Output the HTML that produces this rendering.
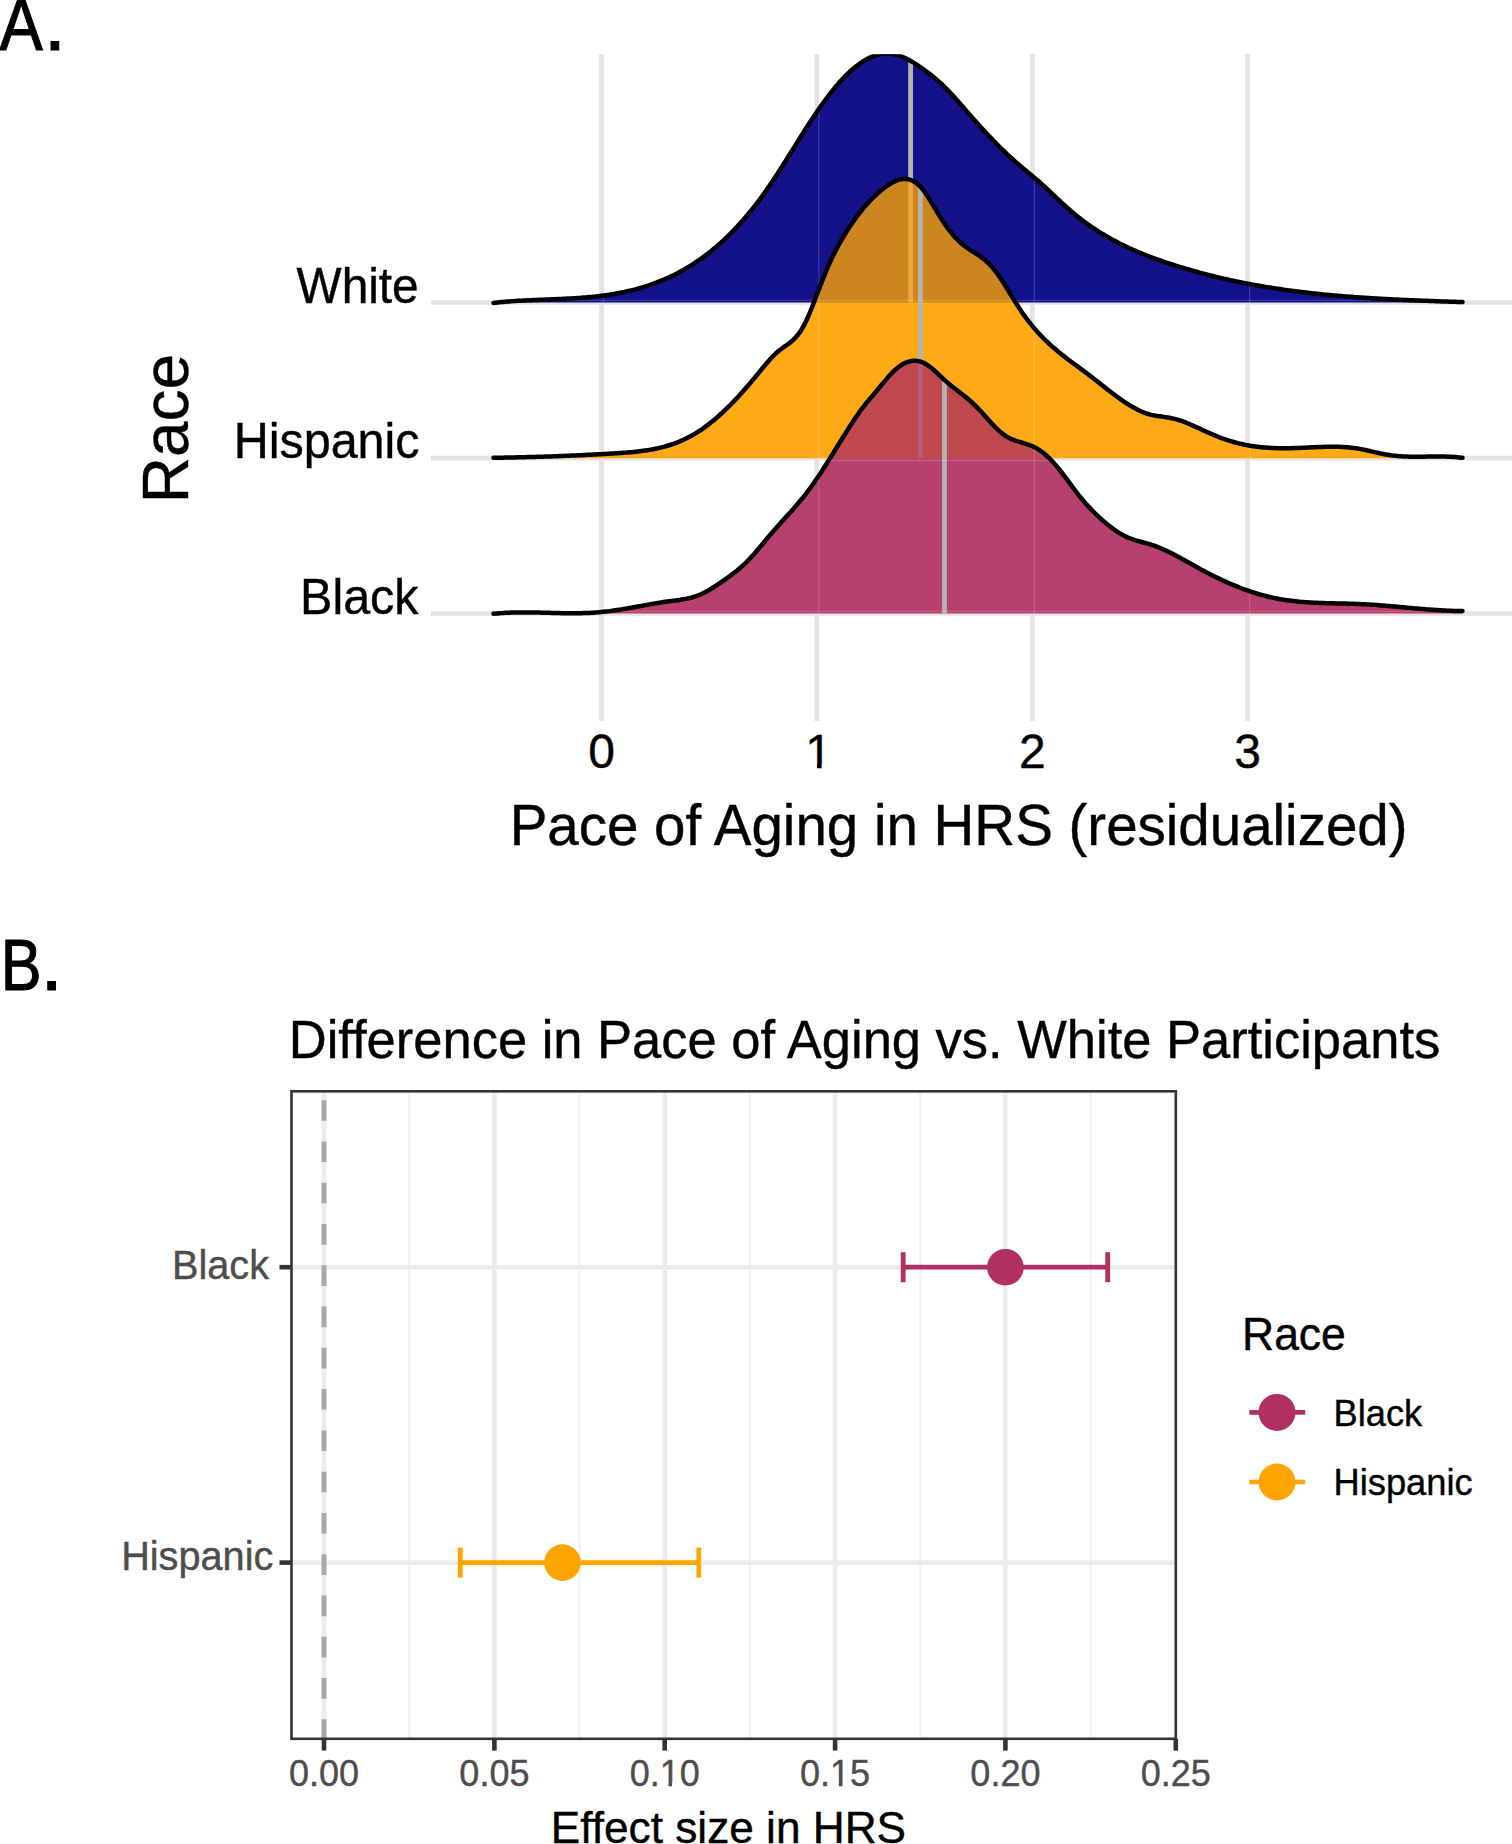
<!DOCTYPE html>
<html><head><meta charset="utf-8"><style>
html,body{margin:0;padding:0;background:#fff;}
body{width:1512px;height:1844px;overflow:hidden;}
svg{display:block;}
text{font-family:"Liberation Sans",Arial,Helvetica,sans-serif;stroke:#000;stroke-width:0.4px;}
.g text{stroke:#4d4d4d;}
</style></head><body>
<svg width="1512" height="1844" viewBox="0 0 1512 1844">
<defs>
<path id="wf" d="M493.5,302.94L495.5,302.71L497.5,302.50L499.5,302.29L501.5,302.10L503.5,301.92L505.5,301.74L507.5,301.58L509.5,301.42L511.5,301.27L513.5,301.13L515.5,301.00L517.5,300.87L519.5,300.75L521.5,300.64L523.5,300.53L525.5,300.43L527.5,300.33L529.5,300.23L531.5,300.14L533.5,300.05L535.5,299.97L537.5,299.88L539.5,299.80L541.5,299.72L543.5,299.64L545.5,299.56L547.5,299.48L549.5,299.40L551.5,299.32L553.5,299.24L555.5,299.16L557.5,299.07L559.5,298.99L561.5,298.90L563.5,298.80L565.5,298.70L567.5,298.60L569.5,298.49L571.5,298.38L573.5,298.26L575.5,298.14L577.5,298.01L579.5,297.87L581.5,297.72L583.5,297.57L585.5,297.41L587.5,297.24L589.5,297.06L591.5,296.87L593.5,296.67L595.5,296.45L597.5,296.23L599.5,296.00L601.5,295.75L603.5,295.50L605.5,295.22L607.5,294.94L609.5,294.64L611.5,294.33L613.5,294.00L615.5,293.66L617.5,293.30L619.5,292.93L621.5,292.54L623.5,292.13L625.5,291.71L627.5,291.27L629.5,290.81L631.5,290.33L633.5,289.83L635.5,289.31L637.5,288.78L639.5,288.22L641.5,287.64L643.5,287.04L645.5,286.42L647.5,285.77L649.5,285.11L651.5,284.42L653.5,283.70L655.5,282.97L657.5,282.20L659.5,281.42L661.5,280.60L663.5,279.77L665.5,278.90L667.5,278.01L669.5,277.09L671.5,276.15L673.5,275.17L675.5,274.17L677.5,273.14L679.5,272.08L681.5,270.99L683.5,269.87L685.5,268.72L687.5,267.53L689.5,266.32L691.5,265.07L693.5,263.79L695.5,262.48L697.5,261.13L699.5,259.75L701.5,258.33L703.5,256.88L705.5,255.39L707.5,253.87L709.5,252.31L711.5,250.71L713.5,249.08L715.5,247.40L717.5,245.69L719.5,243.93L721.5,242.14L723.5,240.31L725.5,238.43L727.5,236.52L729.5,234.56L731.5,232.56L733.5,230.51L735.5,228.42L737.5,226.29L739.5,224.11L741.5,221.89L743.5,219.62L745.5,217.31L747.5,214.95L749.5,212.54L751.5,210.09L753.5,207.58L755.5,205.03L757.5,202.43L759.5,199.78L761.5,197.07L763.5,194.32L765.5,191.52L767.5,188.66L769.5,185.75L771.5,182.80L773.5,179.80L775.5,176.76L777.5,173.69L779.5,170.59L781.5,167.46L783.5,164.30L785.5,161.13L787.5,157.94L789.5,154.74L791.5,151.53L793.5,148.32L795.5,145.11L797.5,141.90L799.5,138.70L801.5,135.52L803.5,132.35L805.5,129.20L807.5,126.07L809.5,122.98L811.5,119.92L813.5,116.89L815.5,113.90L817.5,110.96L819.5,108.07L821.5,105.22L823.5,102.44L825.5,99.71L827.5,97.03L829.5,94.42L831.5,91.87L833.5,89.39L835.5,86.97L837.5,84.61L839.5,82.33L841.5,80.12L843.5,77.98L845.5,75.92L847.5,73.94L849.5,72.03L851.5,70.21L853.5,68.47L855.5,66.81L857.5,65.24L859.5,63.76L861.5,62.38L863.5,61.08L865.5,59.88L867.5,58.77L869.5,57.77L871.5,56.86L873.5,56.05L875.5,55.35L877.5,54.76L879.5,54.27L881.5,53.90L883.5,53.63L885.5,53.48L887.5,53.45L889.5,53.53L891.5,53.73L893.5,54.05L895.5,54.49L897.5,55.04L899.5,55.70L901.5,56.45L903.5,57.29L905.5,58.22L907.5,59.22L909.5,60.30L911.5,61.44L913.5,62.64L915.5,63.89L917.5,65.18L919.5,66.52L921.5,67.89L923.5,69.29L925.5,70.74L927.5,72.23L929.5,73.76L931.5,75.34L933.5,76.96L935.5,78.64L937.5,80.37L939.5,82.15L941.5,83.99L943.5,85.90L945.5,87.86L947.5,89.88L949.5,91.97L951.5,94.10L953.5,96.28L955.5,98.49L957.5,100.73L959.5,103.00L961.5,105.29L963.5,107.59L965.5,109.90L967.5,112.20L969.5,114.50L971.5,116.78L973.5,119.05L975.5,121.30L977.5,123.53L979.5,125.75L981.5,127.95L983.5,130.12L985.5,132.28L987.5,134.42L989.5,136.54L991.5,138.63L993.5,140.70L995.5,142.75L997.5,144.77L999.5,146.77L1001.5,148.75L1003.5,150.70L1005.5,152.62L1007.5,154.52L1009.5,156.38L1011.5,158.22L1013.5,160.03L1015.5,161.81L1017.5,163.56L1019.5,165.28L1021.5,166.97L1023.5,168.65L1025.5,170.31L1027.5,171.96L1029.5,173.62L1031.5,175.27L1033.5,176.94L1035.5,178.62L1037.5,180.33L1039.5,182.06L1041.5,183.83L1043.5,185.63L1045.5,187.47L1047.5,189.34L1049.5,191.22L1051.5,193.12L1053.5,195.03L1055.5,196.94L1057.5,198.84L1059.5,200.73L1061.5,202.61L1063.5,204.46L1065.5,206.27L1067.5,208.05L1069.5,209.80L1071.5,211.51L1073.5,213.18L1075.5,214.82L1077.5,216.43L1079.5,218.01L1081.5,219.55L1083.5,221.06L1085.5,222.53L1087.5,223.98L1089.5,225.40L1091.5,226.78L1093.5,228.14L1095.5,229.47L1097.5,230.77L1099.5,232.04L1101.5,233.29L1103.5,234.51L1105.5,235.70L1107.5,236.87L1109.5,238.02L1111.5,239.14L1113.5,240.23L1115.5,241.30L1117.5,242.36L1119.5,243.38L1121.5,244.39L1123.5,245.38L1125.5,246.34L1127.5,247.29L1129.5,248.22L1131.5,249.13L1133.5,250.02L1135.5,250.89L1137.5,251.74L1139.5,252.58L1141.5,253.41L1143.5,254.22L1145.5,255.01L1147.5,255.79L1149.5,256.56L1151.5,257.31L1153.5,258.05L1155.5,258.78L1157.5,259.50L1159.5,260.21L1161.5,260.91L1163.5,261.59L1165.5,262.27L1167.5,262.94L1169.5,263.60L1171.5,264.26L1173.5,264.90L1175.5,265.54L1177.5,266.17L1179.5,266.79L1181.5,267.40L1183.5,268.01L1185.5,268.61L1187.5,269.20L1189.5,269.78L1191.5,270.36L1193.5,270.93L1195.5,271.49L1197.5,272.04L1199.5,272.59L1201.5,273.12L1203.5,273.66L1205.5,274.18L1207.5,274.70L1209.5,275.21L1211.5,275.71L1213.5,276.21L1215.5,276.70L1217.5,277.18L1219.5,277.65L1221.5,278.12L1223.5,278.58L1225.5,279.04L1227.5,279.49L1229.5,279.93L1231.5,280.37L1233.5,280.80L1235.5,281.22L1237.5,281.64L1239.5,282.05L1241.5,282.45L1243.5,282.85L1245.5,283.24L1247.5,283.63L1249.5,284.01L1251.5,284.38L1253.5,284.75L1255.5,285.12L1257.5,285.47L1259.5,285.82L1261.5,286.17L1263.5,286.51L1265.5,286.85L1267.5,287.18L1269.5,287.50L1271.5,287.82L1273.5,288.13L1275.5,288.44L1277.5,288.74L1279.5,289.04L1281.5,289.33L1283.5,289.62L1285.5,289.91L1287.5,290.18L1289.5,290.46L1291.5,290.73L1293.5,290.99L1295.5,291.25L1297.5,291.50L1299.5,291.75L1301.5,292.00L1303.5,292.24L1305.5,292.48L1307.5,292.71L1309.5,292.94L1311.5,293.16L1313.5,293.38L1315.5,293.60L1317.5,293.81L1319.5,294.02L1321.5,294.22L1323.5,294.42L1325.5,294.62L1327.5,294.81L1329.5,295.00L1331.5,295.18L1333.5,295.37L1335.5,295.54L1337.5,295.72L1339.5,295.89L1341.5,296.06L1343.5,296.22L1345.5,296.38L1347.5,296.54L1349.5,296.69L1351.5,296.85L1353.5,297.00L1355.5,297.14L1357.5,297.28L1359.5,297.42L1361.5,297.56L1363.5,297.69L1365.5,297.83L1367.5,297.96L1369.5,298.08L1371.5,298.21L1373.5,298.33L1375.5,298.45L1377.5,298.56L1379.5,298.68L1381.5,298.79L1383.5,298.90L1385.5,299.01L1387.5,299.11L1389.5,299.22L1391.5,299.32L1393.5,299.42L1395.5,299.52L1397.5,299.61L1399.5,299.71L1401.5,299.80L1403.5,299.89L1405.5,299.98L1407.5,300.07L1409.5,300.15L1411.5,300.24L1413.5,300.32L1415.5,300.40L1417.5,300.49L1419.5,300.57L1421.5,300.64L1423.5,300.72L1425.5,300.80L1427.5,300.87L1429.5,300.95L1431.5,301.02L1433.5,301.10L1435.5,301.17L1437.5,301.24L1439.5,301.31L1441.5,301.38L1443.5,301.45L1445.5,301.52L1447.5,301.59L1449.5,301.66L1451.5,301.73L1453.5,301.80L1455.5,301.87L1457.5,301.93L1459.5,302.00L1461.5,302.07L1462.5,302.10L1462.5,302.5L493.5,302.5Z"/>
<path id="hf" d="M493.5,457.78L495.5,457.76L497.5,457.73L499.5,457.70L501.5,457.67L503.5,457.63L505.5,457.60L507.5,457.56L509.5,457.52L511.5,457.48L513.5,457.44L515.5,457.40L517.5,457.36L519.5,457.31L521.5,457.27L523.5,457.22L525.5,457.17L527.5,457.12L529.5,457.06L531.5,457.01L533.5,456.95L535.5,456.90L537.5,456.84L539.5,456.78L541.5,456.71L543.5,456.65L545.5,456.59L547.5,456.52L549.5,456.45L551.5,456.38L553.5,456.31L555.5,456.24L557.5,456.16L559.5,456.09L561.5,456.01L563.5,455.93L565.5,455.85L567.5,455.77L569.5,455.69L571.5,455.60L573.5,455.52L575.5,455.43L577.5,455.34L579.5,455.25L581.5,455.16L583.5,455.06L585.5,454.97L587.5,454.87L589.5,454.77L591.5,454.67L593.5,454.57L595.5,454.46L597.5,454.36L599.5,454.25L601.5,454.14L603.5,454.03L605.5,453.91L607.5,453.80L609.5,453.68L611.5,453.56L613.5,453.43L615.5,453.31L617.5,453.18L619.5,453.05L621.5,452.91L623.5,452.77L625.5,452.63L627.5,452.47L629.5,452.31L631.5,452.14L633.5,451.95L635.5,451.75L637.5,451.54L639.5,451.32L641.5,451.07L643.5,450.81L645.5,450.53L647.5,450.22L649.5,449.90L651.5,449.55L653.5,449.18L655.5,448.78L657.5,448.36L659.5,447.90L661.5,447.42L663.5,446.90L665.5,446.36L667.5,445.78L669.5,445.16L671.5,444.51L673.5,443.82L675.5,443.09L677.5,442.32L679.5,441.51L681.5,440.66L683.5,439.76L685.5,438.82L687.5,437.83L689.5,436.80L691.5,435.71L693.5,434.58L695.5,433.39L697.5,432.15L699.5,430.85L701.5,429.51L703.5,428.11L705.5,426.67L707.5,425.17L709.5,423.63L711.5,422.04L713.5,420.40L715.5,418.72L717.5,416.99L719.5,415.22L721.5,413.40L723.5,411.55L725.5,409.65L727.5,407.71L729.5,405.73L731.5,403.71L733.5,401.66L735.5,399.56L737.5,397.43L739.5,395.27L741.5,393.07L743.5,390.83L745.5,388.56L747.5,386.26L749.5,383.93L751.5,381.57L753.5,379.18L755.5,376.76L757.5,374.31L759.5,371.86L761.5,369.41L763.5,366.99L765.5,364.60L767.5,362.26L769.5,360.00L771.5,357.81L773.5,355.74L775.5,353.77L777.5,351.94L779.5,350.26L781.5,348.72L783.5,347.28L785.5,345.88L787.5,344.46L789.5,342.97L791.5,341.37L793.5,339.59L795.5,337.58L797.5,335.30L799.5,332.67L801.5,329.67L803.5,326.21L805.5,322.31L807.5,318.02L809.5,313.40L811.5,308.52L813.5,303.46L815.5,298.27L817.5,293.03L819.5,287.79L821.5,282.63L823.5,277.58L825.5,272.66L827.5,267.91L829.5,263.36L831.5,259.01L833.5,254.86L835.5,250.88L837.5,247.08L839.5,243.43L841.5,239.92L843.5,236.54L845.5,233.27L847.5,230.11L849.5,227.04L851.5,224.07L853.5,221.18L855.5,218.39L857.5,215.69L859.5,213.08L861.5,210.55L863.5,208.12L865.5,205.77L867.5,203.51L869.5,201.33L871.5,199.24L873.5,197.24L875.5,195.32L877.5,193.48L879.5,191.72L881.5,190.05L883.5,188.45L885.5,186.94L887.5,185.52L889.5,184.20L891.5,183.00L893.5,181.92L895.5,180.99L897.5,180.22L899.5,179.61L901.5,179.19L903.5,178.96L905.5,178.95L907.5,179.15L909.5,179.59L911.5,180.29L913.5,181.24L915.5,182.48L917.5,184.00L919.5,185.82L921.5,187.96L923.5,190.42L925.5,193.14L927.5,196.09L929.5,199.22L931.5,202.47L933.5,205.81L935.5,209.19L937.5,212.55L939.5,215.85L941.5,219.05L943.5,222.12L945.5,225.06L947.5,227.87L949.5,230.54L951.5,233.07L953.5,235.45L955.5,237.70L957.5,239.80L959.5,241.75L961.5,243.56L963.5,245.21L965.5,246.73L967.5,248.14L969.5,249.47L971.5,250.75L973.5,252.00L975.5,253.26L977.5,254.56L979.5,255.91L981.5,257.35L983.5,258.90L985.5,260.57L987.5,262.38L989.5,264.33L991.5,266.45L993.5,268.74L995.5,271.23L997.5,273.91L999.5,276.75L1001.5,279.73L1003.5,282.82L1005.5,286.00L1007.5,289.24L1009.5,292.51L1011.5,295.80L1013.5,299.07L1015.5,302.31L1017.5,305.48L1019.5,308.56L1021.5,311.54L1023.5,314.42L1025.5,317.19L1027.5,319.86L1029.5,322.45L1031.5,324.94L1033.5,327.35L1035.5,329.68L1037.5,331.93L1039.5,334.10L1041.5,336.21L1043.5,338.25L1045.5,340.23L1047.5,342.15L1049.5,344.02L1051.5,345.84L1053.5,347.61L1055.5,349.33L1057.5,351.02L1059.5,352.67L1061.5,354.28L1063.5,355.87L1065.5,357.43L1067.5,358.96L1069.5,360.48L1071.5,361.98L1073.5,363.46L1075.5,364.94L1077.5,366.42L1079.5,367.89L1081.5,369.36L1083.5,370.84L1085.5,372.32L1087.5,373.82L1089.5,375.33L1091.5,376.86L1093.5,378.41L1095.5,379.97L1097.5,381.55L1099.5,383.12L1101.5,384.71L1103.5,386.29L1105.5,387.86L1107.5,389.43L1109.5,390.99L1111.5,392.53L1113.5,394.05L1115.5,395.56L1117.5,397.03L1119.5,398.48L1121.5,399.89L1123.5,401.27L1125.5,402.61L1127.5,403.91L1129.5,405.16L1131.5,406.36L1133.5,407.51L1135.5,408.60L1137.5,409.63L1139.5,410.60L1141.5,411.50L1143.5,412.33L1145.5,413.08L1147.5,413.76L1149.5,414.36L1151.5,414.87L1153.5,415.31L1155.5,415.69L1157.5,416.03L1159.5,416.32L1161.5,416.60L1163.5,416.87L1165.5,417.15L1167.5,417.45L1169.5,417.79L1171.5,418.17L1173.5,418.61L1175.5,419.12L1177.5,419.69L1179.5,420.31L1181.5,420.99L1183.5,421.71L1185.5,422.47L1187.5,423.27L1189.5,424.10L1191.5,424.95L1193.5,425.84L1195.5,426.73L1197.5,427.65L1199.5,428.57L1201.5,429.49L1203.5,430.42L1205.5,431.34L1207.5,432.25L1209.5,433.14L1211.5,434.02L1213.5,434.87L1215.5,435.70L1217.5,436.50L1219.5,437.28L1221.5,438.03L1223.5,438.75L1225.5,439.45L1227.5,440.13L1229.5,440.77L1231.5,441.39L1233.5,441.98L1235.5,442.54L1237.5,443.07L1239.5,443.58L1241.5,444.06L1243.5,444.50L1245.5,444.92L1247.5,445.31L1249.5,445.67L1251.5,446.00L1253.5,446.30L1255.5,446.58L1257.5,446.84L1259.5,447.06L1261.5,447.27L1263.5,447.45L1265.5,447.61L1267.5,447.75L1269.5,447.87L1271.5,447.97L1273.5,448.05L1275.5,448.12L1277.5,448.17L1279.5,448.20L1281.5,448.22L1283.5,448.22L1285.5,448.22L1287.5,448.20L1289.5,448.17L1291.5,448.13L1293.5,448.08L1295.5,448.02L1297.5,447.96L1299.5,447.88L1301.5,447.81L1303.5,447.73L1305.5,447.64L1307.5,447.55L1309.5,447.46L1311.5,447.37L1313.5,447.28L1315.5,447.19L1317.5,447.11L1319.5,447.03L1321.5,446.96L1323.5,446.89L1325.5,446.84L1327.5,446.79L1329.5,446.76L1331.5,446.75L1333.5,446.75L1335.5,446.76L1337.5,446.80L1339.5,446.86L1341.5,446.94L1343.5,447.04L1345.5,447.16L1347.5,447.32L1349.5,447.50L1351.5,447.71L1353.5,447.95L1355.5,448.23L1357.5,448.54L1359.5,448.88L1361.5,449.25L1363.5,449.65L1365.5,450.07L1367.5,450.51L1369.5,450.95L1371.5,451.41L1373.5,451.86L1375.5,452.32L1377.5,452.77L1379.5,453.21L1381.5,453.63L1383.5,454.04L1385.5,454.42L1387.5,454.77L1389.5,455.09L1391.5,455.37L1393.5,455.62L1395.5,455.84L1397.5,456.03L1399.5,456.19L1401.5,456.33L1403.5,456.44L1405.5,456.53L1407.5,456.60L1409.5,456.66L1411.5,456.69L1413.5,456.71L1415.5,456.72L1417.5,456.72L1419.5,456.71L1421.5,456.69L1423.5,456.67L1425.5,456.64L1427.5,456.61L1429.5,456.58L1431.5,456.56L1433.5,456.53L1435.5,456.52L1437.5,456.51L1439.5,456.51L1441.5,456.52L1443.5,456.55L1445.5,456.59L1447.5,456.65L1449.5,456.72L1451.5,456.82L1453.5,456.94L1455.5,457.09L1457.5,457.26L1459.5,457.46L1461.5,457.69L1462.5,457.81L1462.5,458.2L493.5,458.2Z"/>
<path id="bf" d="M493.5,613.81L495.5,613.61L497.5,613.43L499.5,613.26L501.5,613.12L503.5,612.99L505.5,612.87L507.5,612.77L509.5,612.68L511.5,612.61L513.5,612.55L515.5,612.50L517.5,612.47L519.5,612.44L521.5,612.42L523.5,612.42L525.5,612.42L527.5,612.43L529.5,612.45L531.5,612.47L533.5,612.50L535.5,612.53L537.5,612.57L539.5,612.61L541.5,612.66L543.5,612.71L545.5,612.76L547.5,612.81L549.5,612.86L551.5,612.91L553.5,612.96L555.5,613.01L557.5,613.05L559.5,613.10L561.5,613.13L563.5,613.17L565.5,613.20L567.5,613.22L569.5,613.23L571.5,613.24L573.5,613.24L575.5,613.24L577.5,613.22L579.5,613.19L581.5,613.15L583.5,613.10L585.5,613.04L587.5,612.97L589.5,612.88L591.5,612.78L593.5,612.66L595.5,612.53L597.5,612.38L599.5,612.21L601.5,612.03L603.5,611.83L605.5,611.61L607.5,611.37L609.5,611.13L611.5,610.86L613.5,610.59L615.5,610.30L617.5,610.00L619.5,609.69L621.5,609.37L623.5,609.04L625.5,608.70L627.5,608.36L629.5,608.01L631.5,607.66L633.5,607.30L635.5,606.94L637.5,606.58L639.5,606.21L641.5,605.85L643.5,605.48L645.5,605.12L647.5,604.76L649.5,604.40L651.5,604.05L653.5,603.70L655.5,603.36L657.5,603.03L659.5,602.70L661.5,602.38L663.5,602.07L665.5,601.77L667.5,601.49L669.5,601.21L671.5,600.95L673.5,600.70L675.5,600.44L677.5,600.17L679.5,599.90L681.5,599.60L683.5,599.27L685.5,598.91L687.5,598.51L689.5,598.06L691.5,597.56L693.5,596.99L695.5,596.36L697.5,595.65L699.5,594.86L701.5,593.99L703.5,593.03L705.5,591.99L707.5,590.89L709.5,589.73L711.5,588.51L713.5,587.25L715.5,585.96L717.5,584.64L719.5,583.30L721.5,581.94L723.5,580.57L725.5,579.19L727.5,577.77L729.5,576.33L731.5,574.85L733.5,573.33L735.5,571.77L737.5,570.15L739.5,568.47L741.5,566.73L743.5,564.92L745.5,563.04L747.5,561.07L749.5,559.03L751.5,556.89L753.5,554.67L755.5,552.38L757.5,550.03L759.5,547.65L761.5,545.23L763.5,542.81L765.5,540.38L767.5,537.97L769.5,535.59L771.5,533.24L773.5,530.94L775.5,528.66L777.5,526.42L779.5,524.20L781.5,521.99L783.5,519.78L785.5,517.59L787.5,515.38L789.5,513.17L791.5,510.93L793.5,508.68L795.5,506.39L797.5,504.07L799.5,501.71L801.5,499.29L803.5,496.82L805.5,494.29L807.5,491.69L809.5,489.02L811.5,486.28L813.5,483.47L815.5,480.59L817.5,477.66L819.5,474.67L821.5,471.64L823.5,468.57L825.5,465.45L827.5,462.31L829.5,459.13L831.5,455.93L833.5,452.71L835.5,449.48L837.5,446.25L839.5,443.01L841.5,439.78L843.5,436.56L845.5,433.35L847.5,430.16L849.5,427.01L851.5,423.89L853.5,420.83L855.5,417.83L857.5,414.90L859.5,412.05L861.5,409.29L863.5,406.64L865.5,404.10L867.5,401.66L869.5,399.30L871.5,396.98L873.5,394.66L875.5,392.30L877.5,389.89L879.5,387.46L881.5,385.01L883.5,382.57L885.5,380.18L887.5,377.84L889.5,375.58L891.5,373.43L893.5,371.42L895.5,369.55L897.5,367.85L899.5,366.32L901.5,364.98L903.5,363.81L905.5,362.82L907.5,362.03L909.5,361.42L911.5,361.01L913.5,360.79L915.5,360.77L917.5,360.96L919.5,361.36L921.5,361.96L923.5,362.78L925.5,363.81L927.5,365.06L929.5,366.49L931.5,368.07L933.5,369.77L935.5,371.57L937.5,373.43L939.5,375.32L941.5,377.21L943.5,379.08L945.5,380.89L947.5,382.63L949.5,384.31L951.5,385.93L953.5,387.52L955.5,389.08L957.5,390.62L959.5,392.16L961.5,393.70L963.5,395.27L965.5,396.87L967.5,398.51L969.5,400.21L971.5,401.98L973.5,403.83L975.5,405.77L977.5,407.80L979.5,409.92L981.5,412.09L983.5,414.30L985.5,416.53L987.5,418.76L989.5,420.98L991.5,423.16L993.5,425.29L995.5,427.34L997.5,429.30L999.5,431.15L1001.5,432.87L1003.5,434.44L1005.5,435.84L1007.5,437.06L1009.5,438.13L1011.5,439.07L1013.5,439.89L1015.5,440.62L1017.5,441.29L1019.5,441.90L1021.5,442.49L1023.5,443.07L1025.5,443.67L1027.5,444.31L1029.5,445.01L1031.5,445.79L1033.5,446.67L1035.5,447.67L1037.5,448.81L1039.5,450.09L1041.5,451.51L1043.5,453.05L1045.5,454.72L1047.5,456.52L1049.5,458.43L1051.5,460.47L1053.5,462.62L1055.5,464.89L1057.5,467.26L1059.5,469.72L1061.5,472.26L1063.5,474.86L1065.5,477.51L1067.5,480.19L1069.5,482.88L1071.5,485.57L1073.5,488.25L1075.5,490.90L1077.5,493.50L1079.5,496.04L1081.5,498.50L1083.5,500.89L1085.5,503.20L1087.5,505.44L1089.5,507.61L1091.5,509.71L1093.5,511.75L1095.5,513.74L1097.5,515.66L1099.5,517.53L1101.5,519.35L1103.5,521.12L1105.5,522.83L1107.5,524.48L1109.5,526.08L1111.5,527.61L1113.5,529.08L1115.5,530.48L1117.5,531.82L1119.5,533.08L1121.5,534.26L1123.5,535.37L1125.5,536.40L1127.5,537.34L1129.5,538.20L1131.5,538.98L1133.5,539.68L1135.5,540.31L1137.5,540.90L1139.5,541.45L1141.5,541.98L1143.5,542.49L1145.5,543.02L1147.5,543.57L1149.5,544.15L1151.5,544.77L1153.5,545.45L1155.5,546.17L1157.5,546.93L1159.5,547.74L1161.5,548.58L1163.5,549.46L1165.5,550.38L1167.5,551.33L1169.5,552.30L1171.5,553.30L1173.5,554.33L1175.5,555.37L1177.5,556.44L1179.5,557.52L1181.5,558.61L1183.5,559.71L1185.5,560.83L1187.5,561.94L1189.5,563.06L1191.5,564.18L1193.5,565.30L1195.5,566.42L1197.5,567.52L1199.5,568.62L1201.5,569.71L1203.5,570.78L1205.5,571.83L1207.5,572.88L1209.5,573.91L1211.5,574.93L1213.5,575.93L1215.5,576.91L1217.5,577.89L1219.5,578.84L1221.5,579.78L1223.5,580.71L1225.5,581.61L1227.5,582.51L1229.5,583.38L1231.5,584.24L1233.5,585.08L1235.5,585.90L1237.5,586.71L1239.5,587.50L1241.5,588.27L1243.5,589.02L1245.5,589.75L1247.5,590.46L1249.5,591.16L1251.5,591.83L1253.5,592.48L1255.5,593.12L1257.5,593.73L1259.5,594.32L1261.5,594.89L1263.5,595.44L1265.5,595.97L1267.5,596.48L1269.5,596.96L1271.5,597.43L1273.5,597.87L1275.5,598.28L1277.5,598.68L1279.5,599.05L1281.5,599.40L1283.5,599.73L1285.5,600.04L1287.5,600.33L1289.5,600.60L1291.5,600.85L1293.5,601.09L1295.5,601.31L1297.5,601.51L1299.5,601.70L1301.5,601.88L1303.5,602.04L1305.5,602.19L1307.5,602.33L1309.5,602.45L1311.5,602.57L1313.5,602.67L1315.5,602.77L1317.5,602.86L1319.5,602.94L1321.5,603.01L1323.5,603.08L1325.5,603.14L1327.5,603.20L1329.5,603.25L1331.5,603.30L1333.5,603.35L1335.5,603.39L1337.5,603.44L1339.5,603.48L1341.5,603.52L1343.5,603.57L1345.5,603.62L1347.5,603.67L1349.5,603.72L1351.5,603.78L1353.5,603.84L1355.5,603.90L1357.5,603.98L1359.5,604.06L1361.5,604.14L1363.5,604.24L1365.5,604.34L1367.5,604.46L1369.5,604.57L1371.5,604.70L1373.5,604.83L1375.5,604.97L1377.5,605.11L1379.5,605.26L1381.5,605.42L1383.5,605.58L1385.5,605.74L1387.5,605.90L1389.5,606.07L1391.5,606.25L1393.5,606.42L1395.5,606.60L1397.5,606.78L1399.5,606.96L1401.5,607.14L1403.5,607.32L1405.5,607.50L1407.5,607.69L1409.5,607.87L1411.5,608.05L1413.5,608.23L1415.5,608.40L1417.5,608.58L1419.5,608.75L1421.5,608.92L1423.5,609.08L1425.5,609.25L1427.5,609.40L1429.5,609.56L1431.5,609.71L1433.5,609.85L1435.5,609.99L1437.5,610.12L1439.5,610.24L1441.5,610.36L1443.5,610.47L1445.5,610.57L1447.5,610.67L1449.5,610.75L1451.5,610.83L1453.5,610.90L1455.5,610.96L1457.5,611.01L1459.5,611.04L1461.5,611.07L1462.5,611.08L1462.5,613.5L493.5,613.5Z"/>
<clipPath id="cw"><use href="#wf"/></clipPath>
<clipPath id="ch"><use href="#hf"/></clipPath>
<clipPath id="cb"><use href="#bf"/></clipPath>
<clipPath id="pa"><rect x="0" y="54.2" width="1512" height="667"/></clipPath>
</defs>
<rect width="1512" height="1844" fill="#fff"/>
<!-- Panel A -->
<text transform="translate(-0.5,50.2) scale(0.9,1.04)" font-size="72" style="stroke:#000;stroke-width:1.1px">A</text>
<text x="43.8" y="49.6" font-size="80" style="stroke:#000;stroke-width:1.1px">.</text>
<g stroke="#e3e3e3" stroke-width="4.7">
<line x1="601.5" y1="54" x2="601.5" y2="721"/><line x1="816.8" y1="54" x2="816.8" y2="721"/><line x1="1032.4" y1="54" x2="1032.4" y2="721"/><line x1="1247.6" y1="54" x2="1247.6" y2="721"/>
<line x1="431" y1="302.5" x2="1512" y2="302.5"/>
<line x1="431" y1="458.2" x2="1512" y2="458.2"/>
<line x1="431" y1="613.5" x2="1512" y2="613.5"/>
</g>
<g clip-path="url(#pa)">
<!-- White ridge -->
<use href="#wf" fill="#14128b"/>
<line x1="910.6" y1="302.5" x2="910.6" y2="60.9" stroke="#b4b4b4" stroke-width="4.8"/>
<g clip-path="url(#cw)" stroke="#fff" stroke-opacity="0.16" stroke-width="1.3"><line x1="603.5" y1="54" x2="603.5" y2="721"/><line x1="818.8" y1="54" x2="818.8" y2="721"/><line x1="1034.4" y1="54" x2="1034.4" y2="721"/><line x1="1249.6" y1="54" x2="1249.6" y2="721"/><line x1="431" y1="300.4" x2="1512" y2="300.4"/><line x1="431" y1="460.5" x2="1512" y2="460.5"/><line x1="431" y1="611.4" x2="1512" y2="611.4"/></g>
<path d="M493.5,302.94L495.5,302.71L497.5,302.50L499.5,302.29L501.5,302.10L503.5,301.92L505.5,301.74L507.5,301.58L509.5,301.42L511.5,301.27L513.5,301.13L515.5,301.00L517.5,300.87L519.5,300.75L521.5,300.64L523.5,300.53L525.5,300.43L527.5,300.33L529.5,300.23L531.5,300.14L533.5,300.05L535.5,299.97L537.5,299.88L539.5,299.80L541.5,299.72L543.5,299.64L545.5,299.56L547.5,299.48L549.5,299.40L551.5,299.32L553.5,299.24L555.5,299.16L557.5,299.07L559.5,298.99L561.5,298.90L563.5,298.80L565.5,298.70L567.5,298.60L569.5,298.49L571.5,298.38L573.5,298.26L575.5,298.14L577.5,298.01L579.5,297.87L581.5,297.72L583.5,297.57L585.5,297.41L587.5,297.24L589.5,297.06L591.5,296.87L593.5,296.67L595.5,296.45L597.5,296.23L599.5,296.00L601.5,295.75L603.5,295.50L605.5,295.22L607.5,294.94L609.5,294.64L611.5,294.33L613.5,294.00L615.5,293.66L617.5,293.30L619.5,292.93L621.5,292.54L623.5,292.13L625.5,291.71L627.5,291.27L629.5,290.81L631.5,290.33L633.5,289.83L635.5,289.31L637.5,288.78L639.5,288.22L641.5,287.64L643.5,287.04L645.5,286.42L647.5,285.77L649.5,285.11L651.5,284.42L653.5,283.70L655.5,282.97L657.5,282.20L659.5,281.42L661.5,280.60L663.5,279.77L665.5,278.90L667.5,278.01L669.5,277.09L671.5,276.15L673.5,275.17L675.5,274.17L677.5,273.14L679.5,272.08L681.5,270.99L683.5,269.87L685.5,268.72L687.5,267.53L689.5,266.32L691.5,265.07L693.5,263.79L695.5,262.48L697.5,261.13L699.5,259.75L701.5,258.33L703.5,256.88L705.5,255.39L707.5,253.87L709.5,252.31L711.5,250.71L713.5,249.08L715.5,247.40L717.5,245.69L719.5,243.93L721.5,242.14L723.5,240.31L725.5,238.43L727.5,236.52L729.5,234.56L731.5,232.56L733.5,230.51L735.5,228.42L737.5,226.29L739.5,224.11L741.5,221.89L743.5,219.62L745.5,217.31L747.5,214.95L749.5,212.54L751.5,210.09L753.5,207.58L755.5,205.03L757.5,202.43L759.5,199.78L761.5,197.07L763.5,194.32L765.5,191.52L767.5,188.66L769.5,185.75L771.5,182.80L773.5,179.80L775.5,176.76L777.5,173.69L779.5,170.59L781.5,167.46L783.5,164.30L785.5,161.13L787.5,157.94L789.5,154.74L791.5,151.53L793.5,148.32L795.5,145.11L797.5,141.90L799.5,138.70L801.5,135.52L803.5,132.35L805.5,129.20L807.5,126.07L809.5,122.98L811.5,119.92L813.5,116.89L815.5,113.90L817.5,110.96L819.5,108.07L821.5,105.22L823.5,102.44L825.5,99.71L827.5,97.03L829.5,94.42L831.5,91.87L833.5,89.39L835.5,86.97L837.5,84.61L839.5,82.33L841.5,80.12L843.5,77.98L845.5,75.92L847.5,73.94L849.5,72.03L851.5,70.21L853.5,68.47L855.5,66.81L857.5,65.24L859.5,63.76L861.5,62.38L863.5,61.08L865.5,59.88L867.5,58.77L869.5,57.77L871.5,56.86L873.5,56.05L875.5,55.35L877.5,54.76L879.5,54.27L881.5,53.90L883.5,53.63L885.5,53.48L887.5,53.45L889.5,53.53L891.5,53.73L893.5,54.05L895.5,54.49L897.5,55.04L899.5,55.70L901.5,56.45L903.5,57.29L905.5,58.22L907.5,59.22L909.5,60.30L911.5,61.44L913.5,62.64L915.5,63.89L917.5,65.18L919.5,66.52L921.5,67.89L923.5,69.29L925.5,70.74L927.5,72.23L929.5,73.76L931.5,75.34L933.5,76.96L935.5,78.64L937.5,80.37L939.5,82.15L941.5,83.99L943.5,85.90L945.5,87.86L947.5,89.88L949.5,91.97L951.5,94.10L953.5,96.28L955.5,98.49L957.5,100.73L959.5,103.00L961.5,105.29L963.5,107.59L965.5,109.90L967.5,112.20L969.5,114.50L971.5,116.78L973.5,119.05L975.5,121.30L977.5,123.53L979.5,125.75L981.5,127.95L983.5,130.12L985.5,132.28L987.5,134.42L989.5,136.54L991.5,138.63L993.5,140.70L995.5,142.75L997.5,144.77L999.5,146.77L1001.5,148.75L1003.5,150.70L1005.5,152.62L1007.5,154.52L1009.5,156.38L1011.5,158.22L1013.5,160.03L1015.5,161.81L1017.5,163.56L1019.5,165.28L1021.5,166.97L1023.5,168.65L1025.5,170.31L1027.5,171.96L1029.5,173.62L1031.5,175.27L1033.5,176.94L1035.5,178.62L1037.5,180.33L1039.5,182.06L1041.5,183.83L1043.5,185.63L1045.5,187.47L1047.5,189.34L1049.5,191.22L1051.5,193.12L1053.5,195.03L1055.5,196.94L1057.5,198.84L1059.5,200.73L1061.5,202.61L1063.5,204.46L1065.5,206.27L1067.5,208.05L1069.5,209.80L1071.5,211.51L1073.5,213.18L1075.5,214.82L1077.5,216.43L1079.5,218.01L1081.5,219.55L1083.5,221.06L1085.5,222.53L1087.5,223.98L1089.5,225.40L1091.5,226.78L1093.5,228.14L1095.5,229.47L1097.5,230.77L1099.5,232.04L1101.5,233.29L1103.5,234.51L1105.5,235.70L1107.5,236.87L1109.5,238.02L1111.5,239.14L1113.5,240.23L1115.5,241.30L1117.5,242.36L1119.5,243.38L1121.5,244.39L1123.5,245.38L1125.5,246.34L1127.5,247.29L1129.5,248.22L1131.5,249.13L1133.5,250.02L1135.5,250.89L1137.5,251.74L1139.5,252.58L1141.5,253.41L1143.5,254.22L1145.5,255.01L1147.5,255.79L1149.5,256.56L1151.5,257.31L1153.5,258.05L1155.5,258.78L1157.5,259.50L1159.5,260.21L1161.5,260.91L1163.5,261.59L1165.5,262.27L1167.5,262.94L1169.5,263.60L1171.5,264.26L1173.5,264.90L1175.5,265.54L1177.5,266.17L1179.5,266.79L1181.5,267.40L1183.5,268.01L1185.5,268.61L1187.5,269.20L1189.5,269.78L1191.5,270.36L1193.5,270.93L1195.5,271.49L1197.5,272.04L1199.5,272.59L1201.5,273.12L1203.5,273.66L1205.5,274.18L1207.5,274.70L1209.5,275.21L1211.5,275.71L1213.5,276.21L1215.5,276.70L1217.5,277.18L1219.5,277.65L1221.5,278.12L1223.5,278.58L1225.5,279.04L1227.5,279.49L1229.5,279.93L1231.5,280.37L1233.5,280.80L1235.5,281.22L1237.5,281.64L1239.5,282.05L1241.5,282.45L1243.5,282.85L1245.5,283.24L1247.5,283.63L1249.5,284.01L1251.5,284.38L1253.5,284.75L1255.5,285.12L1257.5,285.47L1259.5,285.82L1261.5,286.17L1263.5,286.51L1265.5,286.85L1267.5,287.18L1269.5,287.50L1271.5,287.82L1273.5,288.13L1275.5,288.44L1277.5,288.74L1279.5,289.04L1281.5,289.33L1283.5,289.62L1285.5,289.91L1287.5,290.18L1289.5,290.46L1291.5,290.73L1293.5,290.99L1295.5,291.25L1297.5,291.50L1299.5,291.75L1301.5,292.00L1303.5,292.24L1305.5,292.48L1307.5,292.71L1309.5,292.94L1311.5,293.16L1313.5,293.38L1315.5,293.60L1317.5,293.81L1319.5,294.02L1321.5,294.22L1323.5,294.42L1325.5,294.62L1327.5,294.81L1329.5,295.00L1331.5,295.18L1333.5,295.37L1335.5,295.54L1337.5,295.72L1339.5,295.89L1341.5,296.06L1343.5,296.22L1345.5,296.38L1347.5,296.54L1349.5,296.69L1351.5,296.85L1353.5,297.00L1355.5,297.14L1357.5,297.28L1359.5,297.42L1361.5,297.56L1363.5,297.69L1365.5,297.83L1367.5,297.96L1369.5,298.08L1371.5,298.21L1373.5,298.33L1375.5,298.45L1377.5,298.56L1379.5,298.68L1381.5,298.79L1383.5,298.90L1385.5,299.01L1387.5,299.11L1389.5,299.22L1391.5,299.32L1393.5,299.42L1395.5,299.52L1397.5,299.61L1399.5,299.71L1401.5,299.80L1403.5,299.89L1405.5,299.98L1407.5,300.07L1409.5,300.15L1411.5,300.24L1413.5,300.32L1415.5,300.40L1417.5,300.49L1419.5,300.57L1421.5,300.64L1423.5,300.72L1425.5,300.80L1427.5,300.87L1429.5,300.95L1431.5,301.02L1433.5,301.10L1435.5,301.17L1437.5,301.24L1439.5,301.31L1441.5,301.38L1443.5,301.45L1445.5,301.52L1447.5,301.59L1449.5,301.66L1451.5,301.73L1453.5,301.80L1455.5,301.87L1457.5,301.93L1459.5,302.00L1461.5,302.07L1462.5,302.10" fill="none" stroke="#000" stroke-width="4.5" stroke-linecap="round" stroke-linejoin="round"/>
<!-- Hispanic ridge -->
<use href="#hf" fill="#fdaa16"/>
<use href="#hf" fill="#cd861f" clip-path="url(#cw)"/>
<line x1="910.6" y1="302.5" x2="910.6" y2="179.9" stroke="#eca93a" stroke-width="4.8"/>
<line x1="920.4" y1="458.2" x2="920.4" y2="186.7" stroke="#b4b4b4" stroke-width="4.8"/>
<g clip-path="url(#ch)" stroke="#fff" stroke-opacity="0.16" stroke-width="1.3"><line x1="603.5" y1="54" x2="603.5" y2="721"/><line x1="818.8" y1="54" x2="818.8" y2="721"/><line x1="1034.4" y1="54" x2="1034.4" y2="721"/><line x1="1249.6" y1="54" x2="1249.6" y2="721"/><line x1="431" y1="300.4" x2="1512" y2="300.4"/><line x1="431" y1="460.5" x2="1512" y2="460.5"/><line x1="431" y1="611.4" x2="1512" y2="611.4"/></g>
<path d="M493.5,457.78L495.5,457.76L497.5,457.73L499.5,457.70L501.5,457.67L503.5,457.63L505.5,457.60L507.5,457.56L509.5,457.52L511.5,457.48L513.5,457.44L515.5,457.40L517.5,457.36L519.5,457.31L521.5,457.27L523.5,457.22L525.5,457.17L527.5,457.12L529.5,457.06L531.5,457.01L533.5,456.95L535.5,456.90L537.5,456.84L539.5,456.78L541.5,456.71L543.5,456.65L545.5,456.59L547.5,456.52L549.5,456.45L551.5,456.38L553.5,456.31L555.5,456.24L557.5,456.16L559.5,456.09L561.5,456.01L563.5,455.93L565.5,455.85L567.5,455.77L569.5,455.69L571.5,455.60L573.5,455.52L575.5,455.43L577.5,455.34L579.5,455.25L581.5,455.16L583.5,455.06L585.5,454.97L587.5,454.87L589.5,454.77L591.5,454.67L593.5,454.57L595.5,454.46L597.5,454.36L599.5,454.25L601.5,454.14L603.5,454.03L605.5,453.91L607.5,453.80L609.5,453.68L611.5,453.56L613.5,453.43L615.5,453.31L617.5,453.18L619.5,453.05L621.5,452.91L623.5,452.77L625.5,452.63L627.5,452.47L629.5,452.31L631.5,452.14L633.5,451.95L635.5,451.75L637.5,451.54L639.5,451.32L641.5,451.07L643.5,450.81L645.5,450.53L647.5,450.22L649.5,449.90L651.5,449.55L653.5,449.18L655.5,448.78L657.5,448.36L659.5,447.90L661.5,447.42L663.5,446.90L665.5,446.36L667.5,445.78L669.5,445.16L671.5,444.51L673.5,443.82L675.5,443.09L677.5,442.32L679.5,441.51L681.5,440.66L683.5,439.76L685.5,438.82L687.5,437.83L689.5,436.80L691.5,435.71L693.5,434.58L695.5,433.39L697.5,432.15L699.5,430.85L701.5,429.51L703.5,428.11L705.5,426.67L707.5,425.17L709.5,423.63L711.5,422.04L713.5,420.40L715.5,418.72L717.5,416.99L719.5,415.22L721.5,413.40L723.5,411.55L725.5,409.65L727.5,407.71L729.5,405.73L731.5,403.71L733.5,401.66L735.5,399.56L737.5,397.43L739.5,395.27L741.5,393.07L743.5,390.83L745.5,388.56L747.5,386.26L749.5,383.93L751.5,381.57L753.5,379.18L755.5,376.76L757.5,374.31L759.5,371.86L761.5,369.41L763.5,366.99L765.5,364.60L767.5,362.26L769.5,360.00L771.5,357.81L773.5,355.74L775.5,353.77L777.5,351.94L779.5,350.26L781.5,348.72L783.5,347.28L785.5,345.88L787.5,344.46L789.5,342.97L791.5,341.37L793.5,339.59L795.5,337.58L797.5,335.30L799.5,332.67L801.5,329.67L803.5,326.21L805.5,322.31L807.5,318.02L809.5,313.40L811.5,308.52L813.5,303.46L815.5,298.27L817.5,293.03L819.5,287.79L821.5,282.63L823.5,277.58L825.5,272.66L827.5,267.91L829.5,263.36L831.5,259.01L833.5,254.86L835.5,250.88L837.5,247.08L839.5,243.43L841.5,239.92L843.5,236.54L845.5,233.27L847.5,230.11L849.5,227.04L851.5,224.07L853.5,221.18L855.5,218.39L857.5,215.69L859.5,213.08L861.5,210.55L863.5,208.12L865.5,205.77L867.5,203.51L869.5,201.33L871.5,199.24L873.5,197.24L875.5,195.32L877.5,193.48L879.5,191.72L881.5,190.05L883.5,188.45L885.5,186.94L887.5,185.52L889.5,184.20L891.5,183.00L893.5,181.92L895.5,180.99L897.5,180.22L899.5,179.61L901.5,179.19L903.5,178.96L905.5,178.95L907.5,179.15L909.5,179.59L911.5,180.29L913.5,181.24L915.5,182.48L917.5,184.00L919.5,185.82L921.5,187.96L923.5,190.42L925.5,193.14L927.5,196.09L929.5,199.22L931.5,202.47L933.5,205.81L935.5,209.19L937.5,212.55L939.5,215.85L941.5,219.05L943.5,222.12L945.5,225.06L947.5,227.87L949.5,230.54L951.5,233.07L953.5,235.45L955.5,237.70L957.5,239.80L959.5,241.75L961.5,243.56L963.5,245.21L965.5,246.73L967.5,248.14L969.5,249.47L971.5,250.75L973.5,252.00L975.5,253.26L977.5,254.56L979.5,255.91L981.5,257.35L983.5,258.90L985.5,260.57L987.5,262.38L989.5,264.33L991.5,266.45L993.5,268.74L995.5,271.23L997.5,273.91L999.5,276.75L1001.5,279.73L1003.5,282.82L1005.5,286.00L1007.5,289.24L1009.5,292.51L1011.5,295.80L1013.5,299.07L1015.5,302.31L1017.5,305.48L1019.5,308.56L1021.5,311.54L1023.5,314.42L1025.5,317.19L1027.5,319.86L1029.5,322.45L1031.5,324.94L1033.5,327.35L1035.5,329.68L1037.5,331.93L1039.5,334.10L1041.5,336.21L1043.5,338.25L1045.5,340.23L1047.5,342.15L1049.5,344.02L1051.5,345.84L1053.5,347.61L1055.5,349.33L1057.5,351.02L1059.5,352.67L1061.5,354.28L1063.5,355.87L1065.5,357.43L1067.5,358.96L1069.5,360.48L1071.5,361.98L1073.5,363.46L1075.5,364.94L1077.5,366.42L1079.5,367.89L1081.5,369.36L1083.5,370.84L1085.5,372.32L1087.5,373.82L1089.5,375.33L1091.5,376.86L1093.5,378.41L1095.5,379.97L1097.5,381.55L1099.5,383.12L1101.5,384.71L1103.5,386.29L1105.5,387.86L1107.5,389.43L1109.5,390.99L1111.5,392.53L1113.5,394.05L1115.5,395.56L1117.5,397.03L1119.5,398.48L1121.5,399.89L1123.5,401.27L1125.5,402.61L1127.5,403.91L1129.5,405.16L1131.5,406.36L1133.5,407.51L1135.5,408.60L1137.5,409.63L1139.5,410.60L1141.5,411.50L1143.5,412.33L1145.5,413.08L1147.5,413.76L1149.5,414.36L1151.5,414.87L1153.5,415.31L1155.5,415.69L1157.5,416.03L1159.5,416.32L1161.5,416.60L1163.5,416.87L1165.5,417.15L1167.5,417.45L1169.5,417.79L1171.5,418.17L1173.5,418.61L1175.5,419.12L1177.5,419.69L1179.5,420.31L1181.5,420.99L1183.5,421.71L1185.5,422.47L1187.5,423.27L1189.5,424.10L1191.5,424.95L1193.5,425.84L1195.5,426.73L1197.5,427.65L1199.5,428.57L1201.5,429.49L1203.5,430.42L1205.5,431.34L1207.5,432.25L1209.5,433.14L1211.5,434.02L1213.5,434.87L1215.5,435.70L1217.5,436.50L1219.5,437.28L1221.5,438.03L1223.5,438.75L1225.5,439.45L1227.5,440.13L1229.5,440.77L1231.5,441.39L1233.5,441.98L1235.5,442.54L1237.5,443.07L1239.5,443.58L1241.5,444.06L1243.5,444.50L1245.5,444.92L1247.5,445.31L1249.5,445.67L1251.5,446.00L1253.5,446.30L1255.5,446.58L1257.5,446.84L1259.5,447.06L1261.5,447.27L1263.5,447.45L1265.5,447.61L1267.5,447.75L1269.5,447.87L1271.5,447.97L1273.5,448.05L1275.5,448.12L1277.5,448.17L1279.5,448.20L1281.5,448.22L1283.5,448.22L1285.5,448.22L1287.5,448.20L1289.5,448.17L1291.5,448.13L1293.5,448.08L1295.5,448.02L1297.5,447.96L1299.5,447.88L1301.5,447.81L1303.5,447.73L1305.5,447.64L1307.5,447.55L1309.5,447.46L1311.5,447.37L1313.5,447.28L1315.5,447.19L1317.5,447.11L1319.5,447.03L1321.5,446.96L1323.5,446.89L1325.5,446.84L1327.5,446.79L1329.5,446.76L1331.5,446.75L1333.5,446.75L1335.5,446.76L1337.5,446.80L1339.5,446.86L1341.5,446.94L1343.5,447.04L1345.5,447.16L1347.5,447.32L1349.5,447.50L1351.5,447.71L1353.5,447.95L1355.5,448.23L1357.5,448.54L1359.5,448.88L1361.5,449.25L1363.5,449.65L1365.5,450.07L1367.5,450.51L1369.5,450.95L1371.5,451.41L1373.5,451.86L1375.5,452.32L1377.5,452.77L1379.5,453.21L1381.5,453.63L1383.5,454.04L1385.5,454.42L1387.5,454.77L1389.5,455.09L1391.5,455.37L1393.5,455.62L1395.5,455.84L1397.5,456.03L1399.5,456.19L1401.5,456.33L1403.5,456.44L1405.5,456.53L1407.5,456.60L1409.5,456.66L1411.5,456.69L1413.5,456.71L1415.5,456.72L1417.5,456.72L1419.5,456.71L1421.5,456.69L1423.5,456.67L1425.5,456.64L1427.5,456.61L1429.5,456.58L1431.5,456.56L1433.5,456.53L1435.5,456.52L1437.5,456.51L1439.5,456.51L1441.5,456.52L1443.5,456.55L1445.5,456.59L1447.5,456.65L1449.5,456.72L1451.5,456.82L1453.5,456.94L1455.5,457.09L1457.5,457.26L1459.5,457.46L1461.5,457.69L1462.5,457.81" fill="none" stroke="#000" stroke-width="4.5" stroke-linecap="round" stroke-linejoin="round"/>
<!-- Black ridge -->
<use href="#bf" fill="#b8406c"/>
<use href="#bf" fill="#c0494f" clip-path="url(#ch)"/>
<line x1="920.4" y1="458.2" x2="920.4" y2="361.6" stroke="#b55b7c" stroke-width="4.8"/>
<line x1="944.5" y1="613.5" x2="944.5" y2="380.0" stroke="#b4b4b4" stroke-width="4.8"/>
<g clip-path="url(#cb)" stroke="#fff" stroke-opacity="0.16" stroke-width="1.3"><line x1="603.5" y1="54" x2="603.5" y2="721"/><line x1="818.8" y1="54" x2="818.8" y2="721"/><line x1="1034.4" y1="54" x2="1034.4" y2="721"/><line x1="1249.6" y1="54" x2="1249.6" y2="721"/><line x1="431" y1="300.4" x2="1512" y2="300.4"/><line x1="431" y1="460.5" x2="1512" y2="460.5"/><line x1="431" y1="611.4" x2="1512" y2="611.4"/></g>
<path d="M493.5,613.81L495.5,613.61L497.5,613.43L499.5,613.26L501.5,613.12L503.5,612.99L505.5,612.87L507.5,612.77L509.5,612.68L511.5,612.61L513.5,612.55L515.5,612.50L517.5,612.47L519.5,612.44L521.5,612.42L523.5,612.42L525.5,612.42L527.5,612.43L529.5,612.45L531.5,612.47L533.5,612.50L535.5,612.53L537.5,612.57L539.5,612.61L541.5,612.66L543.5,612.71L545.5,612.76L547.5,612.81L549.5,612.86L551.5,612.91L553.5,612.96L555.5,613.01L557.5,613.05L559.5,613.10L561.5,613.13L563.5,613.17L565.5,613.20L567.5,613.22L569.5,613.23L571.5,613.24L573.5,613.24L575.5,613.24L577.5,613.22L579.5,613.19L581.5,613.15L583.5,613.10L585.5,613.04L587.5,612.97L589.5,612.88L591.5,612.78L593.5,612.66L595.5,612.53L597.5,612.38L599.5,612.21L601.5,612.03L603.5,611.83L605.5,611.61L607.5,611.37L609.5,611.13L611.5,610.86L613.5,610.59L615.5,610.30L617.5,610.00L619.5,609.69L621.5,609.37L623.5,609.04L625.5,608.70L627.5,608.36L629.5,608.01L631.5,607.66L633.5,607.30L635.5,606.94L637.5,606.58L639.5,606.21L641.5,605.85L643.5,605.48L645.5,605.12L647.5,604.76L649.5,604.40L651.5,604.05L653.5,603.70L655.5,603.36L657.5,603.03L659.5,602.70L661.5,602.38L663.5,602.07L665.5,601.77L667.5,601.49L669.5,601.21L671.5,600.95L673.5,600.70L675.5,600.44L677.5,600.17L679.5,599.90L681.5,599.60L683.5,599.27L685.5,598.91L687.5,598.51L689.5,598.06L691.5,597.56L693.5,596.99L695.5,596.36L697.5,595.65L699.5,594.86L701.5,593.99L703.5,593.03L705.5,591.99L707.5,590.89L709.5,589.73L711.5,588.51L713.5,587.25L715.5,585.96L717.5,584.64L719.5,583.30L721.5,581.94L723.5,580.57L725.5,579.19L727.5,577.77L729.5,576.33L731.5,574.85L733.5,573.33L735.5,571.77L737.5,570.15L739.5,568.47L741.5,566.73L743.5,564.92L745.5,563.04L747.5,561.07L749.5,559.03L751.5,556.89L753.5,554.67L755.5,552.38L757.5,550.03L759.5,547.65L761.5,545.23L763.5,542.81L765.5,540.38L767.5,537.97L769.5,535.59L771.5,533.24L773.5,530.94L775.5,528.66L777.5,526.42L779.5,524.20L781.5,521.99L783.5,519.78L785.5,517.59L787.5,515.38L789.5,513.17L791.5,510.93L793.5,508.68L795.5,506.39L797.5,504.07L799.5,501.71L801.5,499.29L803.5,496.82L805.5,494.29L807.5,491.69L809.5,489.02L811.5,486.28L813.5,483.47L815.5,480.59L817.5,477.66L819.5,474.67L821.5,471.64L823.5,468.57L825.5,465.45L827.5,462.31L829.5,459.13L831.5,455.93L833.5,452.71L835.5,449.48L837.5,446.25L839.5,443.01L841.5,439.78L843.5,436.56L845.5,433.35L847.5,430.16L849.5,427.01L851.5,423.89L853.5,420.83L855.5,417.83L857.5,414.90L859.5,412.05L861.5,409.29L863.5,406.64L865.5,404.10L867.5,401.66L869.5,399.30L871.5,396.98L873.5,394.66L875.5,392.30L877.5,389.89L879.5,387.46L881.5,385.01L883.5,382.57L885.5,380.18L887.5,377.84L889.5,375.58L891.5,373.43L893.5,371.42L895.5,369.55L897.5,367.85L899.5,366.32L901.5,364.98L903.5,363.81L905.5,362.82L907.5,362.03L909.5,361.42L911.5,361.01L913.5,360.79L915.5,360.77L917.5,360.96L919.5,361.36L921.5,361.96L923.5,362.78L925.5,363.81L927.5,365.06L929.5,366.49L931.5,368.07L933.5,369.77L935.5,371.57L937.5,373.43L939.5,375.32L941.5,377.21L943.5,379.08L945.5,380.89L947.5,382.63L949.5,384.31L951.5,385.93L953.5,387.52L955.5,389.08L957.5,390.62L959.5,392.16L961.5,393.70L963.5,395.27L965.5,396.87L967.5,398.51L969.5,400.21L971.5,401.98L973.5,403.83L975.5,405.77L977.5,407.80L979.5,409.92L981.5,412.09L983.5,414.30L985.5,416.53L987.5,418.76L989.5,420.98L991.5,423.16L993.5,425.29L995.5,427.34L997.5,429.30L999.5,431.15L1001.5,432.87L1003.5,434.44L1005.5,435.84L1007.5,437.06L1009.5,438.13L1011.5,439.07L1013.5,439.89L1015.5,440.62L1017.5,441.29L1019.5,441.90L1021.5,442.49L1023.5,443.07L1025.5,443.67L1027.5,444.31L1029.5,445.01L1031.5,445.79L1033.5,446.67L1035.5,447.67L1037.5,448.81L1039.5,450.09L1041.5,451.51L1043.5,453.05L1045.5,454.72L1047.5,456.52L1049.5,458.43L1051.5,460.47L1053.5,462.62L1055.5,464.89L1057.5,467.26L1059.5,469.72L1061.5,472.26L1063.5,474.86L1065.5,477.51L1067.5,480.19L1069.5,482.88L1071.5,485.57L1073.5,488.25L1075.5,490.90L1077.5,493.50L1079.5,496.04L1081.5,498.50L1083.5,500.89L1085.5,503.20L1087.5,505.44L1089.5,507.61L1091.5,509.71L1093.5,511.75L1095.5,513.74L1097.5,515.66L1099.5,517.53L1101.5,519.35L1103.5,521.12L1105.5,522.83L1107.5,524.48L1109.5,526.08L1111.5,527.61L1113.5,529.08L1115.5,530.48L1117.5,531.82L1119.5,533.08L1121.5,534.26L1123.5,535.37L1125.5,536.40L1127.5,537.34L1129.5,538.20L1131.5,538.98L1133.5,539.68L1135.5,540.31L1137.5,540.90L1139.5,541.45L1141.5,541.98L1143.5,542.49L1145.5,543.02L1147.5,543.57L1149.5,544.15L1151.5,544.77L1153.5,545.45L1155.5,546.17L1157.5,546.93L1159.5,547.74L1161.5,548.58L1163.5,549.46L1165.5,550.38L1167.5,551.33L1169.5,552.30L1171.5,553.30L1173.5,554.33L1175.5,555.37L1177.5,556.44L1179.5,557.52L1181.5,558.61L1183.5,559.71L1185.5,560.83L1187.5,561.94L1189.5,563.06L1191.5,564.18L1193.5,565.30L1195.5,566.42L1197.5,567.52L1199.5,568.62L1201.5,569.71L1203.5,570.78L1205.5,571.83L1207.5,572.88L1209.5,573.91L1211.5,574.93L1213.5,575.93L1215.5,576.91L1217.5,577.89L1219.5,578.84L1221.5,579.78L1223.5,580.71L1225.5,581.61L1227.5,582.51L1229.5,583.38L1231.5,584.24L1233.5,585.08L1235.5,585.90L1237.5,586.71L1239.5,587.50L1241.5,588.27L1243.5,589.02L1245.5,589.75L1247.5,590.46L1249.5,591.16L1251.5,591.83L1253.5,592.48L1255.5,593.12L1257.5,593.73L1259.5,594.32L1261.5,594.89L1263.5,595.44L1265.5,595.97L1267.5,596.48L1269.5,596.96L1271.5,597.43L1273.5,597.87L1275.5,598.28L1277.5,598.68L1279.5,599.05L1281.5,599.40L1283.5,599.73L1285.5,600.04L1287.5,600.33L1289.5,600.60L1291.5,600.85L1293.5,601.09L1295.5,601.31L1297.5,601.51L1299.5,601.70L1301.5,601.88L1303.5,602.04L1305.5,602.19L1307.5,602.33L1309.5,602.45L1311.5,602.57L1313.5,602.67L1315.5,602.77L1317.5,602.86L1319.5,602.94L1321.5,603.01L1323.5,603.08L1325.5,603.14L1327.5,603.20L1329.5,603.25L1331.5,603.30L1333.5,603.35L1335.5,603.39L1337.5,603.44L1339.5,603.48L1341.5,603.52L1343.5,603.57L1345.5,603.62L1347.5,603.67L1349.5,603.72L1351.5,603.78L1353.5,603.84L1355.5,603.90L1357.5,603.98L1359.5,604.06L1361.5,604.14L1363.5,604.24L1365.5,604.34L1367.5,604.46L1369.5,604.57L1371.5,604.70L1373.5,604.83L1375.5,604.97L1377.5,605.11L1379.5,605.26L1381.5,605.42L1383.5,605.58L1385.5,605.74L1387.5,605.90L1389.5,606.07L1391.5,606.25L1393.5,606.42L1395.5,606.60L1397.5,606.78L1399.5,606.96L1401.5,607.14L1403.5,607.32L1405.5,607.50L1407.5,607.69L1409.5,607.87L1411.5,608.05L1413.5,608.23L1415.5,608.40L1417.5,608.58L1419.5,608.75L1421.5,608.92L1423.5,609.08L1425.5,609.25L1427.5,609.40L1429.5,609.56L1431.5,609.71L1433.5,609.85L1435.5,609.99L1437.5,610.12L1439.5,610.24L1441.5,610.36L1443.5,610.47L1445.5,610.57L1447.5,610.67L1449.5,610.75L1451.5,610.83L1453.5,610.90L1455.5,610.96L1457.5,611.01L1459.5,611.04L1461.5,611.07L1462.5,611.08" fill="none" stroke="#000" stroke-width="4.5" stroke-linecap="round" stroke-linejoin="round"/>
</g>
<!-- Axis labels A -->
<g font-size="48.5" fill="#000" text-anchor="end">
<text transform="translate(418.7,302.5) scale(1,1.02)" textLength="122.2" lengthAdjust="spacingAndGlyphs">White</text>
<text transform="translate(419.6,458.2) scale(1,1.02)">Hispanic</text>
<text transform="translate(418.6,613.8) scale(1,1.02)">Black</text>
</g>
<text transform="translate(187.5,428.6) rotate(-90) scale(1,1.02)" font-size="64" text-anchor="middle">Race</text>
<g font-size="48" text-anchor="middle">
<text transform="translate(601.5,768)">0</text>
<text transform="translate(818.6,768)">1</text>
<text transform="translate(1032.4,768)">2</text>
<text transform="translate(1247.6,768)">3</text>
</g>
<rect x="807.42" y="763.78" width="9.54" height="5.52" fill="#fff"/><rect x="821.66" y="763.78" width="9.28" height="5.52" fill="#fff"/>
<text transform="translate(958.6,845.3) scale(1,1.02)" font-size="56.5" text-anchor="middle">Pace of Aging in HRS (residualized)</text>

<!-- Panel B -->
<text transform="translate(0.7,989.9) scale(0.85,1)" font-size="72" style="stroke:#000;stroke-width:1.1px">B</text>
<text x="40.4" y="989.9" font-size="80" style="stroke:#000;stroke-width:1.1px">.</text>
<text transform="translate(288.8,1057.5) scale(1,1.02)" font-size="52.5">Difference in Pace of Aging vs. White Participants</text>
<g stroke="#f2f2f2" stroke-width="2.4">
<line x1="409.2" y1="1092" x2="409.2" y2="1738"/><line x1="579.5" y1="1092" x2="579.5" y2="1738"/><line x1="749.9" y1="1092" x2="749.9" y2="1738"/><line x1="920.3" y1="1092" x2="920.3" y2="1738"/><line x1="1090.6" y1="1092" x2="1090.6" y2="1738"/>
</g>
<g stroke="#ebebeb" stroke-width="4.6">
<line x1="324.0" y1="1092" x2="324.0" y2="1738"/><line x1="494.4" y1="1092" x2="494.4" y2="1738"/><line x1="664.7" y1="1092" x2="664.7" y2="1738"/><line x1="835.1" y1="1092" x2="835.1" y2="1738"/><line x1="1005.4" y1="1092" x2="1005.4" y2="1738"/>
<line x1="292" y1="1267.2" x2="1175" y2="1267.2"/>
<line x1="292" y1="1562.6" x2="1175" y2="1562.6"/>
</g>
<line x1="324" y1="1740" x2="324" y2="1092" stroke="#a8a8a8" stroke-width="5" stroke-dasharray="20.64 20.64"/>
<!-- error bars -->
<g stroke="#b03060" stroke-width="4.8" fill="none">
<line x1="903.2" y1="1267.2" x2="1107.7" y2="1267.2"/>
<line x1="903.2" y1="1252.2" x2="903.2" y2="1282.2"/>
<line x1="1107.7" y1="1252.2" x2="1107.7" y2="1282.2"/>
</g>
<circle cx="1005.4" cy="1267.2" r="18.3" fill="#b03060"/>
<g stroke="#ffa500" stroke-width="4.8" fill="none">
<line x1="460.3" y1="1562.6" x2="698.8" y2="1562.6"/>
<line x1="460.3" y1="1547.6" x2="460.3" y2="1577.6"/>
<line x1="698.8" y1="1547.6" x2="698.8" y2="1577.6"/>
</g>
<circle cx="562.5" cy="1562.6" r="18.3" fill="#ffa500"/>
<!-- panel border -->
<rect x="291.5" y="1091.3" width="884.3" height="647.5" fill="none" stroke="#333" stroke-width="2.6"/>
<!-- ticks -->
<g stroke="#333" stroke-width="4.6">
<line x1="279.5" y1="1267.2" x2="291.5" y2="1267.2"/>
<line x1="279.5" y1="1562.6" x2="291.5" y2="1562.6"/>
<line x1="324.0" y1="1738.8" x2="324.0" y2="1750.6"/><line x1="494.4" y1="1738.8" x2="494.4" y2="1750.6"/><line x1="664.7" y1="1738.8" x2="664.7" y2="1750.6"/><line x1="835.1" y1="1738.8" x2="835.1" y2="1750.6"/><line x1="1005.4" y1="1738.8" x2="1005.4" y2="1750.6"/><line x1="1175.8" y1="1738.8" x2="1175.8" y2="1750.6"/>
</g>
<g class="g" font-size="39.7" fill="#4d4d4d" text-anchor="end">
<text transform="translate(269,1279) scale(1,1.02)">Black</text>
<text transform="translate(273.3,1570.3) scale(1,1.02)">Hispanic</text>
</g>
<g class="g" font-size="36" fill="#4d4d4d" text-anchor="middle">
<text transform="translate(324.0,1786)">0.00</text><text transform="translate(494.4,1786)">0.05</text><text transform="translate(664.7,1786)">0.10</text><text transform="translate(835.1,1786)">0.15</text><text transform="translate(1005.4,1786)">0.20</text><text transform="translate(1175.8,1786)">0.25</text>
</g>
<rect x="661.34" y="1782.83" width="7.11" height="4.47" fill="#fff"/><rect x="672.07" y="1782.83" width="6.91" height="4.47" fill="#fff"/><rect x="831.70" y="1782.83" width="7.11" height="4.47" fill="#fff"/><rect x="842.43" y="1782.83" width="6.91" height="4.47" fill="#fff"/>
<text transform="translate(728.4,1842.5) scale(1,1.02)" font-size="44.2" text-anchor="middle">Effect size in HRS</text>
<!-- legend -->
<text transform="translate(1242,1350.4) scale(1,1.02)" font-size="44.5">Race</text>
<line x1="1249.3" y1="1412.4" x2="1305.2" y2="1412.4" stroke="#b03060" stroke-width="4.6"/>
<circle cx="1277" cy="1412.4" r="18.5" fill="#b03060"/>
<text transform="translate(1333.5,1425.9) scale(1,1.02)" font-size="36.3">Black</text>
<line x1="1249.3" y1="1482" x2="1305.2" y2="1482" stroke="#ffa500" stroke-width="4.6"/>
<circle cx="1277" cy="1482" r="18.5" fill="#ffa500"/>
<text transform="translate(1333.5,1495.4) scale(1,1.02)" font-size="36.3">Hispanic</text>
</svg>
</body></html>
